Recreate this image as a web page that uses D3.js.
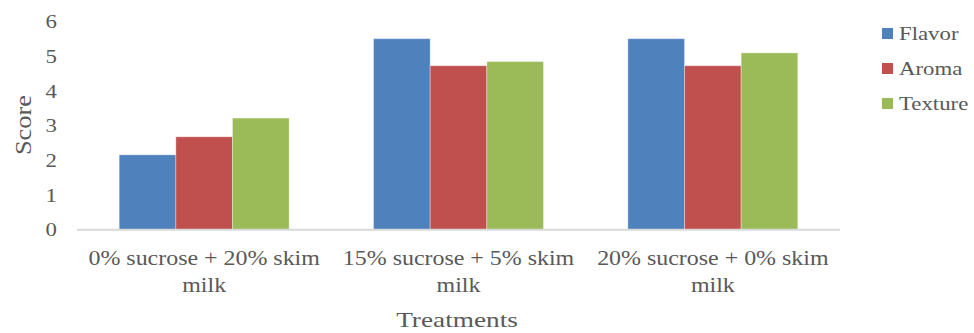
<!DOCTYPE html>
<html><head><meta charset="utf-8">
<script src="https://cdn.jsdelivr.net/npm/d3@7"></script>
<style>body{margin:0;background:#fff}svg{display:block}</style>
</head><body><svg id="c" width="974" height="333" font-family="'Liberation Serif', 'DejaVu Serif', 'Times New Roman', serif"></svg>
<script>
const categories = [["0% sucrose + 20% skim","milk"],["15% sucrose + 5% skim","milk"],["20% sucrose + 0% skim","milk"]];
const seriesNames = ["Flavor","Aroma","Texture"];
const flavor = [2.16, 5.51, 5.51];
const aroma = [2.68, 4.73, 4.73];
const texture = [3.22, 4.85, 5.10];
const yTicks = [0,1,2,3,4,5,6];
const colors = ["#4F81BD","#C0504D","#9BBB59"];
const values = [flavor, aroma, texture];

const svg = d3.select("#c");
const TXT = "#595959";
const x0 = d3.scaleBand().domain(d3.range(categories.length)).range([77,840]);
const y = d3.scaleLinear().domain([0,6]).range([229.7,21.7]);
const gapRatio = 1.49;
const bw = x0.bandwidth()/(3+gapRatio);
const gap = bw*gapRatio;
const x1 = d3.scaleBand().domain(d3.range(seriesNames.length)).range([gap/2, gap/2+3*bw]);

// stretched text helper
function stext(parent, x, yy, str, size, sx, anchor, rot) {
  const g = parent.append("g").attr("transform", `translate(${x},${yy})` + (rot ? ` rotate(${rot})` : "") + ` scale(${sx},1)`);
  return g.append("text").attr("text-anchor", anchor).attr("fill", TXT).style("font-size", size + "px").text(str);
}

// y tick labels
yTicks.forEach(d => {
  stext(svg, 57, y(d), d, 19, 1.2, "end").attr("dy", "0.35em");
});

// bars
const g = svg.append("g");
categories.forEach((c,ci)=>{
  seriesNames.forEach((s,si)=>{
    const v = values[si][ci];
    g.append("rect")
      .attr("x", x0(ci)+x1(si))
      .attr("y", y(v))
      .attr("width", x1.bandwidth())
      .attr("height", y(0)-y(v))
      .attr("fill", colors[si])
      .attr("stroke","rgba(255,255,255,0.35)").attr("stroke-width",1);
  });
});

// axis line
svg.append("line").attr("x1",77).attr("x2",840).attr("y1",y(0)).attr("y2",y(0))
  .attr("stroke","#D9D9D9").attr("stroke-width",2);

// category labels
categories.forEach((c,ci)=>{
  const cx = x0(ci)+x0.bandwidth()/2;
  c.forEach((line,li)=>{
    stext(svg, cx, 265 + li*27, line, 21, 1.14, "middle");
  });
});

// axis titles
stext(svg, 457, 327, "Treatments", 22, 1.24, "middle");
stext(svg, 31, 125, "Score", 23, 1.15, "middle", -90);

// legend
const lg = svg.append("g");
seriesNames.forEach((s,i)=>{
  const cy = 33.5 + i*35;
  lg.append("rect").attr("x",882).attr("y",cy-5.5).attr("width",11).attr("height",11).attr("fill",colors[i]);
  stext(lg, 899, cy, s, 19, 1.2, "start").attr("dy","0.35em");
});
</script></body></html>
